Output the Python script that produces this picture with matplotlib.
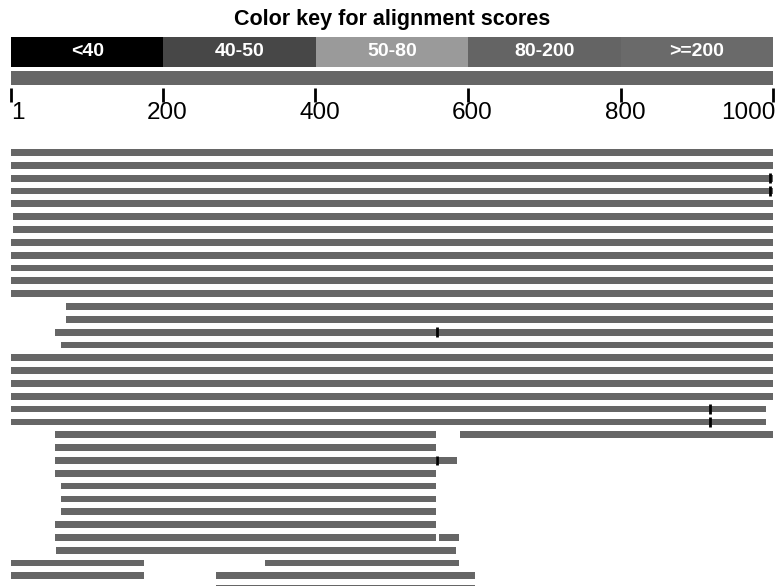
import numpy as np
import matplotlib
matplotlib.use('Agg')
import matplotlib.pyplot as plt

plt.rcParams['font.family'] = ['Liberation Sans', 'DejaVu Sans']

# colour key for alignment scores
key_labels = ['<40', '40-50', '50-80', '80-200', '>=200']
key_colors = ['#000000', '#474747', '#9a9a9a', '#646464', '#6a6a6a']

# query scale
seq_len = 1000
scale_ticks = [1, 200, 400, 600, 800, 1000]

# hits: one list of (start, end) segments per row, top to bottom
hit_rows = [
    [(1, 1000)], [(1, 1000)], [(1, 1000)], [(1, 1000)],
    [(1, 1000)], [(3, 1000)], [(3, 1000)], [(1, 1000)],
    [(1, 1000)], [(1, 1000)], [(1, 1000)], [(1, 1000)],
    [(73, 1000)], [(73, 1000)], [(59, 1000)], [(67, 1000)],
    [(1, 1000)], [(1, 1000)], [(1, 1000)], [(1, 1000)],
    [(1, 991)], [(1, 991)],
    [(59, 558), (590, 1000)],
    [(59, 558)],
    [(59, 558), (560, 585)],
    [(59, 558)],
    [(67, 558)], [(67, 558)], [(67, 558)],
    [(59, 558)],
    [(59, 558), (562, 588)],
    [(60, 584)],
    [(1, 175), (334, 588)],
    [(1, 175), (270, 609)],
    [(270, 609)],
]
# small black marks on hits: (row, position)
mark_rows = [2, 3, 14, 20, 21, 24]
mark_pos = [996, 996, 559, 917, 917, 559]

bar_gray = '#666666'
W, H = 777, 586
head_px = 130
xlim = (-13.5, 1005)

fig = plt.figure(figsize=(W / 100, H / 100), dpi=100)
fig.patch.set_facecolor('white')

# header: colour key, query bar and scale (y in pixels)
hx = fig.add_axes([0, 1 - head_px / H, 1, head_px / H])
hx.set_xlim(*xlim)
hx.set_ylim(head_px, 0)
hx.axis('off')

hx.text((1 + seq_len) / 2, 20, 'Color key for alignment scores', ha='center', va='center',
        fontsize=15.5, fontweight='bold', color='black')

edges = np.linspace(1, seq_len, len(key_labels) + 1)
for i in range(len(key_labels)):
    hx.barh(52, edges[i + 1] - edges[i], left=edges[i], height=30, color=key_colors[i], linewidth=0)
    hx.text((edges[i] + edges[i + 1]) / 2, 52, key_labels[i], ha='center', va='center',
            fontsize=14, fontweight='bold', color='white')
hx.barh(78, seq_len - 1, left=1, height=14, color=bar_gray, linewidth=0)

hx.vlines(scale_ticks, 88, 102, color='black', lw=2)
for t in scale_ticks:
    if t == 1:
        ha, xt = 'left', t
    elif t == seq_len:
        ha, xt = 'right', t + 3
    else:
        ha, xt = 'center', t + 6
    hx.text(xt, 113, str(t), ha=ha, va='center', fontsize=17.5, color='black')

# hits (y = row index)
row0_px, row_step = 152.5, 12.83
ax = fig.add_axes([0, 0, 1, 1 - head_px / H])
ax.set_xlim(*xlim)
ax.set_ylim((H - row0_px) / row_step, (head_px - row0_px) / row_step)
ax.axis('off')

for r, segs in enumerate(hit_rows):
    for s, e in segs:
        ax.barh(r, e - s, left=s, height=0.53, color=bar_gray, linewidth=0)
ax.vlines(mark_pos, np.array(mark_rows) - 0.38, np.array(mark_rows) + 0.38, color='black', lw=2)

fig.savefig('out.png', dpi=100)
